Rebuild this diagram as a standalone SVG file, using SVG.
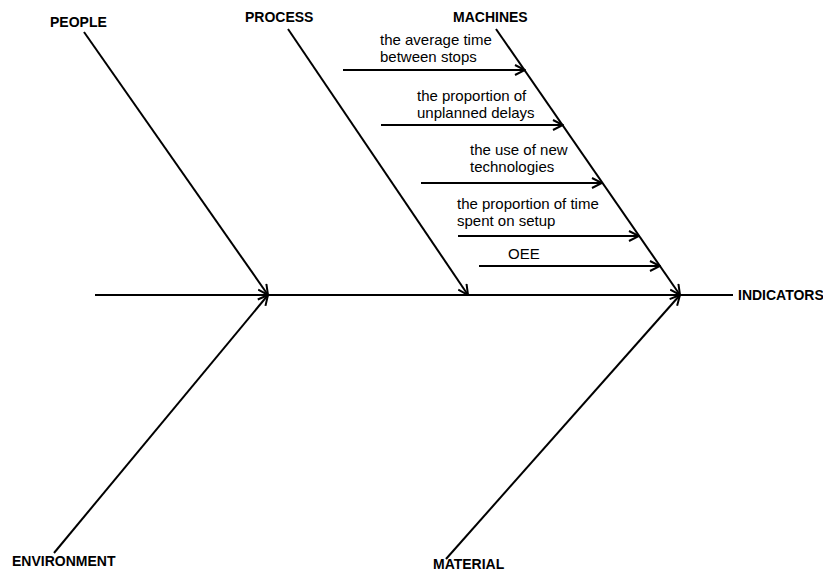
<svg xmlns="http://www.w3.org/2000/svg" width="823" height="569" viewBox="0 0 823 569">
<style>
.ln{stroke:#000;stroke-width:2;fill:none}
.cat{font-family:"Liberation Sans",Arial,sans-serif;font-weight:bold;font-size:14px;fill:#000}
.t{font-family:"Liberation Sans",Arial,sans-serif;font-size:15px;fill:#000}
</style>
<defs>
<marker id="a" viewBox="0 0 12 12" refX="11" refY="6" markerWidth="12" markerHeight="12" markerUnits="userSpaceOnUse" orient="auto">
<polyline points="1,1 11,6 1,11" fill="none" stroke="#000" stroke-width="2"/>
</marker>
</defs>
<rect width="823" height="569" fill="#fff"/>
<g id="connectors">
<line class="ln" x1="95" y1="295" x2="733" y2="295"/>
<line class="ln" x1="84" y1="32" x2="268" y2="295" marker-end="url(#a)"/>
<line class="ln" x1="288" y1="29" x2="468" y2="295" marker-end="url(#a)"/>
<line class="ln" x1="496" y1="29" x2="680" y2="295" marker-end="url(#a)"/>
<line class="ln" x1="54" y1="553" x2="268" y2="295" marker-end="url(#a)"/>
<line class="ln" x1="446" y1="559" x2="680" y2="295" marker-end="url(#a)"/>
<line class="ln" x1="343" y1="70" x2="525" y2="70" marker-end="url(#a)"/>
<line class="ln" x1="381" y1="125" x2="563" y2="125" marker-end="url(#a)"/>
<line class="ln" x1="421" y1="183" x2="602" y2="183" marker-end="url(#a)"/>
<line class="ln" x1="458" y1="236" x2="639" y2="236" marker-end="url(#a)"/>
<line class="ln" x1="479" y1="266" x2="660" y2="266" marker-end="url(#a)"/>
</g>
<g id="people"><text class="cat" x="50" y="27">PEOPLE</text></g>
<g id="process"><text class="cat" x="245" y="22">PROCESS</text></g>
<g id="machines"><text class="cat" x="453" y="22">MACHINES</text></g>
<g id="environment"><text class="cat" x="12" y="566">ENVIRONMENT</text></g>
<g id="material"><text class="cat" x="433" y="569">MATERIAL</text></g>
<g id="indicators"><text class="cat" x="738" y="300">INDICATORS</text></g>
<g id="cause1"><text class="t" x="380" y="45">the average time</text><text class="t" x="380" y="62">between stops</text></g>
<g id="cause2"><text class="t" x="417" y="101">the proportion of</text><text class="t" x="417" y="118">unplanned delays</text></g>
<g id="cause3"><text class="t" x="470" y="155">the use of new</text><text class="t" x="470" y="172">technologies</text></g>
<g id="cause4"><text class="t" x="457" y="209">the proportion of time</text><text class="t" x="457" y="226">spent on setup</text></g>
<g id="cause5"><text class="t" x="508" y="259">OEE</text></g>
</svg>
